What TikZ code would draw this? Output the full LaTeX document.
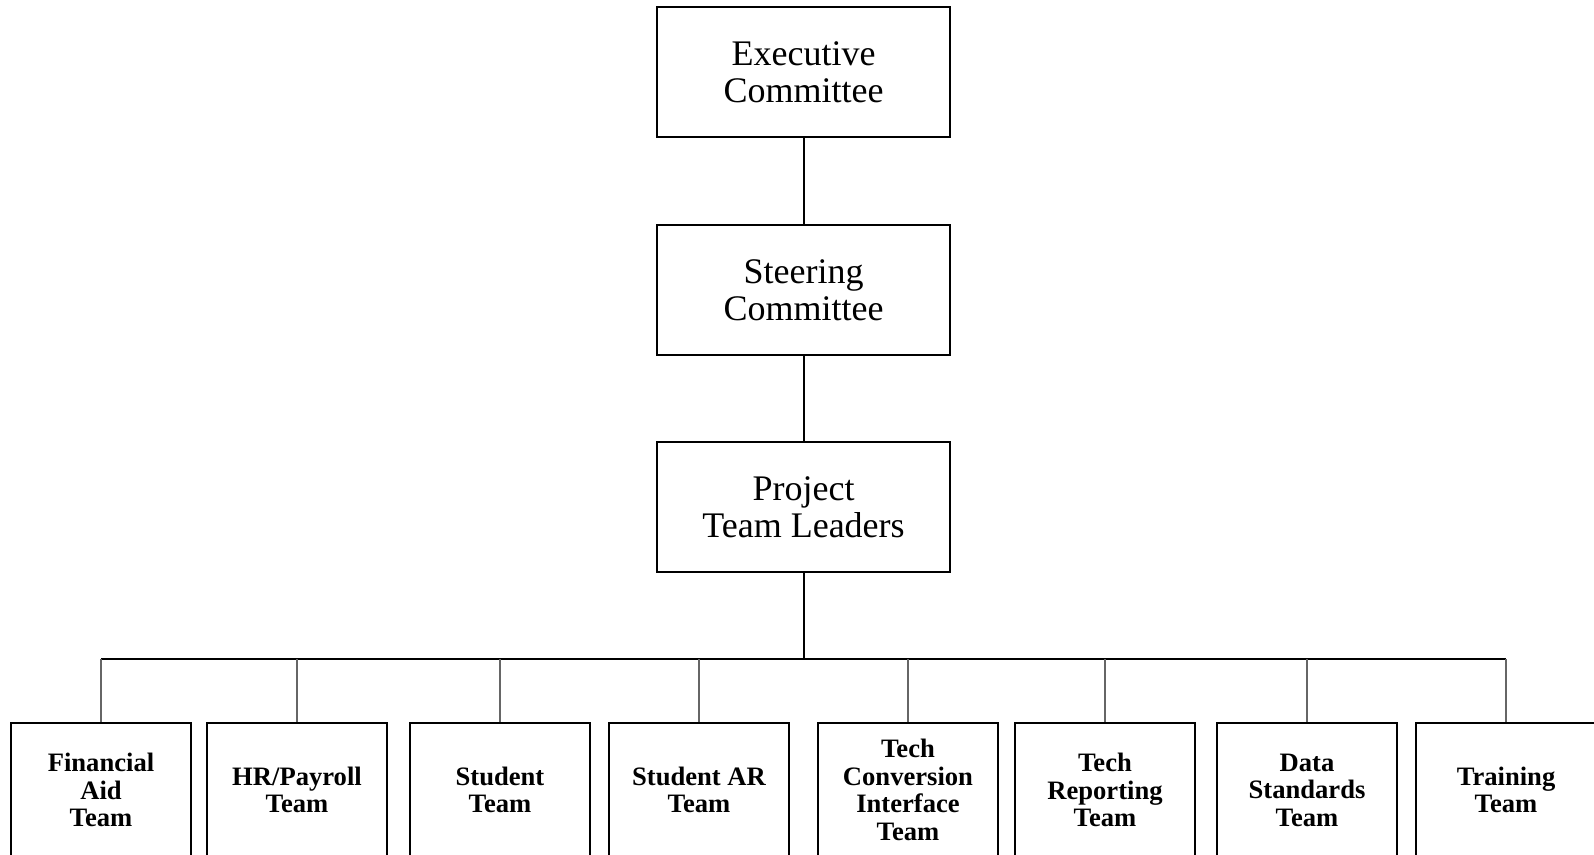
\documentclass[tikz,border=0pt]{standalone}
\usepackage{fontspec}
\setmainfont{Liberation Serif}
\usetikzlibrary{positioning}

\begin{document}
\begin{tikzpicture}[
        x=0.5pt, y=-0.5pt,
        every node/.style = {shape=rectangle, draw, line width=1pt, inner sep=0pt, align=center},
        board/.style = {minimum width=146.5pt, minimum height=65pt,
          font=\fontsize{18}{18.3}\selectfont},
        team/.style = {minimum width=90pt, minimum height=67pt,
          font=\fontsize{13.3}{13.75}\selectfont\bfseries},
        link/.style = {line width=1pt},
        drop/.style = {line width=1.3pt, black!60}]
      \useasboundingbox (0,0) rectangle (1594,855);
      % committees
      \node[board] (exec) at (803.5,72) {Executive\\Committee};
      \node[board] (steer) at (803.5,290) {Steering\\Committee};
      \node[board] (leaders) at (803.5,507) {Project\\Team Leaders};
      % teams
      \node[team] (finaid) at (101,790) {Financial\\Aid\\Team};
      \node[team] (hrpay) at (297,790) {HR/Payroll\\Team};
      \node[team] (student) at (500,790) {Student\\Team};
      \node[team] (studar) at (699,790) {Student AR\\Team};
      \node[team] (techconv) at (908,790) {Tech\\Conversion\\Interface\\Team};
      \node[team] (techrep) at (1105,790) {Tech\\Reporting\\Team};
      \node[team] (datastd) at (1307,790) {Data\\Standards\\Team};
      \node[team] (training) at (1506,790) {Training\\Team};
      \coordinate (bus) at (803.5,659);
      % connectors
      \draw[link] (exec) -- (steer);
      \draw[link] (steer) -- (leaders);
      \draw[link] (leaders) -- (bus);
      \draw[link] (finaid.north |- bus) -- (training.north |- bus);
      \draw[drop] (finaid.north |- bus) -- (finaid.north);
      \draw[drop] (hrpay.north |- bus) -- (hrpay.north);
      \draw[drop] (student.north |- bus) -- (student.north);
      \draw[drop] (studar.north |- bus) -- (studar.north);
      \draw[drop] (techconv.north |- bus) -- (techconv.north);
      \draw[drop] (techrep.north |- bus) -- (techrep.north);
      \draw[drop] (datastd.north |- bus) -- (datastd.north);
      \draw[drop] (training.north |- bus) -- (training.north);
    \end{tikzpicture}
\end{document}
